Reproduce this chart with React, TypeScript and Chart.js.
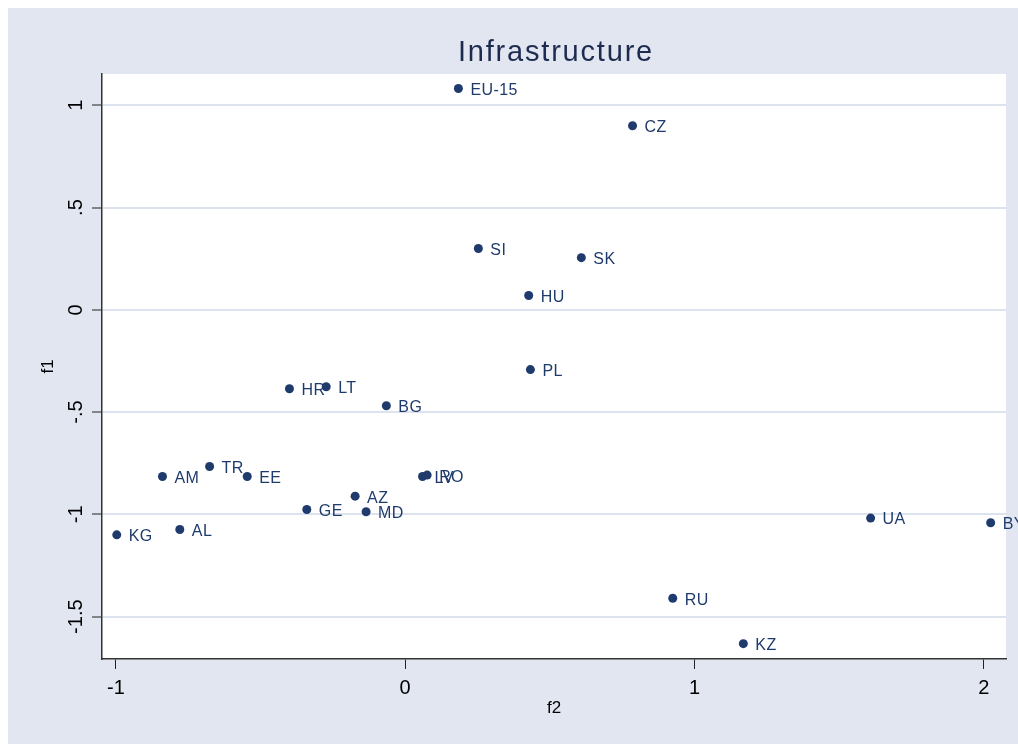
import React, { useEffect, useRef } from "react";
import { Chart, registerables } from "chart.js";

Chart.register(...registerables);

// ---- Data ----
const countries = ["EU-15", "CZ", "SI", "SK", "HU", "PL", "HR", "LT", "BG", "AM", "TR", "EE", "LV", "RO", "AZ", "GE", "MD", "KG", "AL", "UA", "BY", "RU", "KZ"];
const f2Values = [0.184, 0.786, 0.253, 0.609, 0.427, 0.433, -0.400, -0.273, -0.065, -0.839, -0.676, -0.546, 0.060, 0.076, -0.173, -0.340, -0.135, -0.997, -0.779, 1.609, 2.024, 0.925, 1.169];
const f1Values = [1.082, 0.900, 0.300, 0.255, 0.070, -0.292, -0.386, -0.376, -0.469, -0.815, -0.766, -0.815, -0.815, -0.808, -0.911, -0.976, -0.987, -1.100, -1.074, -1.018, -1.041, -1.410, -1.632];

const xTicks = [-1, 0, 1, 2];
const xTickLabels = ["-1", "0", "1", "2"];
const yTicks = [-1.5, -1, -0.5, 0, 0.5, 1];
const yTickLabels = ["-1.5", "-1", "-.5", "0", ".5", "1"];

const chartTitle = "Infrastructure";
const xAxisTitle = "f2";
const yAxisTitle = "f1";

const FONT = '"Liberation Sans", Arial, sans-serif';
const NAVY = "#1f3b6d";
const BG = "#e1e6f0";
const GRID = "#dde3ee";

const W = 1010;
const H = 736;

export default function App() {
  const ref = useRef<HTMLCanvasElement | null>(null);

  useEffect(() => {
    if (!ref.current) return;

    const plotBg = {
      id: "plotBg",
      beforeDraw(chart: any) {
        const { ctx, chartArea } = chart;
        ctx.save();
        ctx.fillStyle = "#ffffff";
        ctx.fillRect(chartArea.left, chartArea.top, chartArea.right - chartArea.left, chartArea.bottom - chartArea.top);
        ctx.restore();
      },
    };

    const titlePlugin = {
      id: "stataTitle",
      afterDraw(chart: any) {
        const { ctx, chartArea } = chart;
        ctx.save();
        ctx.font = `29px ${FONT}`;
        (ctx as any).letterSpacing = "1.8px";
        ctx.fillStyle = "#1e2b50";
        ctx.textAlign = "center";
        ctx.textBaseline = "alphabetic";
        ctx.fillText(chartTitle, (chartArea.left + chartArea.right) / 2 + 2, 53);
        ctx.restore();
      },
    };

    const labelPlugin = {
      id: "pointLabels",
      beforeDatasetsDraw(chart: any) {
        const { ctx } = chart;
        const meta = chart.getDatasetMeta(0);
        ctx.save();
        ctx.font = `16px ${FONT}`;
        (ctx as any).letterSpacing = "0.4px";
        ctx.fillStyle = NAVY;
        ctx.textAlign = "left";
        ctx.textBaseline = "middle";
        meta.data.forEach((pt: any, i: number) => {
          ctx.fillText(countries[i], pt.x + 12, pt.y + 2);
        });
        ctx.restore();
      },
    };

    const chart = new Chart(ref.current, {
      type: "scatter",
      data: {
        datasets: [
          {
            data: f2Values.map((x, i) => ({ x, y: f1Values[i] })),
            backgroundColor: NAVY,
            borderWidth: 0,
            pointRadius: 4.5,
            pointHoverRadius: 4.5,
          },
        ],
      },
      options: {
        responsive: false,
        animation: false,
        events: [],
        layout: { padding: { left: 0, right: 12, top: 66, bottom: 0 } },
        plugins: {
          legend: { display: false },
          title: { display: false },
          tooltip: { enabled: false },
        },
        scales: {
          x: {
            type: "linear",
            min: -1.048,
            max: 2.077,
            afterBuildTicks: (scale: any) => {
              scale.ticks = xTicks.map((v) => ({ value: v }));
            },
            afterFit: (scale: any) => {
              scale.height = 85;
            },
            ticks: {
              font: { family: FONT, size: 20 },
              color: "#000",
              padding: 7,
              maxRotation: 0,
              callback: (v: any) => xTickLabels[xTicks.indexOf(Number(v))] ?? "",
            },
            grid: {
              drawOnChartArea: false,
              drawTicks: true,
              tickLength: 10,
              tickColor: "#222",
              tickWidth: 1,
            },
            border: { display: true, color: "#333", width: 1.5 },
            title: {
              display: true,
              text: xAxisTitle,
              font: { family: FONT, size: 17 },
              color: "#000",
              padding: { top: 0, bottom: 25 },
            },
          },
          y: {
            type: "linear",
            min: -1.707,
            max: 1.153,
            afterBuildTicks: (scale: any) => {
              scale.ticks = yTicks.map((v) => ({ value: v }));
            },
            afterFit: (scale: any) => {
              scale.width = 94;
            },
            ticks: {
              font: { family: FONT, size: 20 },
              color: "#000",
              padding: -2,
              minRotation: 90,
              maxRotation: 90,
              crossAlign: "center",
              callback: (v: any) => yTickLabels[yTicks.indexOf(Number(v))] ?? "",
            },
            grid: {
              drawOnChartArea: true,
              color: GRID,
              lineWidth: 2,
              drawTicks: true,
              tickLength: 10,
              tickColor: "#222",
              tickWidth: 1,
            },
            border: { display: true, color: "#333", width: 1.5 },
            title: {
              display: true,
              text: yAxisTitle,
              font: { family: FONT, size: 17 },
              color: "#000",
              padding: { top: 30, bottom: 0 },
            },
          },
        },
      },
      plugins: [plotBg, labelPlugin, titlePlugin],
    } as any);

    return () => chart.destroy();
  }, []);

  return (
    <div
      style={{
        position: "fixed",
        left: 8,
        top: 8,
        right: 0,
        bottom: 0,
        background: BG,
        overflow: "hidden",
      }}
    >
      <canvas
        ref={ref}
        width={W}
        height={H}
        style={{ position: "absolute", left: 0, top: 0, width: W, height: H, display: "block" }}
      />
    </div>
  );
}
